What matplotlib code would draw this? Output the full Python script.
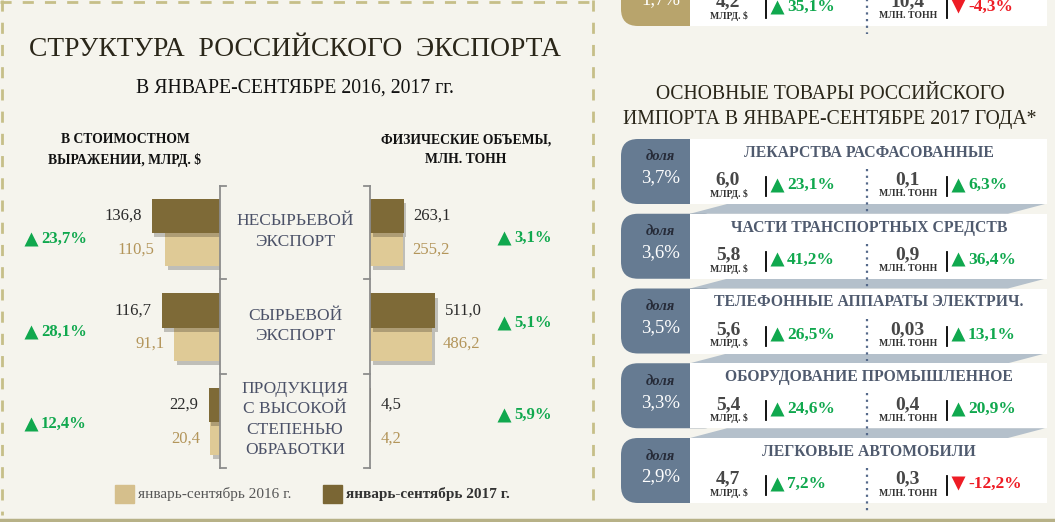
import matplotlib
matplotlib.use("Agg")
import matplotlib.pyplot as plt
from matplotlib.patches import Rectangle, FancyBboxPatch, Polygon
import matplotlib.patheffects as pe

# ---------------- data ----------------
categories = ["НЕСЫРЬЕВОЙ\nЭКСПОРТ", "СЫРЬЕВОЙ\nЭКСПОРТ",
              "ПРОДУКЦИЯ\nС ВЫСОКОЙ\nСТЕПЕНЬЮ\nОБРАБОТКИ"]
value_2016 = [110.5, 91.1, 20.4]        # млрд. $
value_2017 = [136.8, 116.7, 22.9]
value_change = [23.7, 28.1, 12.4]       # %
volume_2016 = [255.2, 486.2, 4.2]       # млн. тонн
volume_2017 = [263.1, 511.0, 4.5]
volume_change = [3.1, 5.1, 5.9]         # %
legend_labels = ["январь-сентябрь 2016 г.", "январь-сентябрь 2017 г."]

import_goods = ["ЛЕКАРСТВА РАСФАСОВАННЫЕ", "ЧАСТИ ТРАНСПОРТНЫХ СРЕДСТВ",
                "ТЕЛЕФОННЫЕ АППАРАТЫ ЭЛЕКТРИЧ.", "ОБОРУДОВАНИЕ ПРОМЫШЛЕННОЕ",
                "ЛЕГКОВЫЕ АВТОМОБИЛИ"]
import_share = [3.7, 3.6, 3.5, 3.3, 2.9]          # доля, %
import_usd = [6.0, 5.8, 5.6, 5.4, 4.7]            # млрд. $
import_usd_change = [23.1, 41.2, 26.5, 24.6, 7.2]
import_tonnes = [0.1, 0.9, 0.03, 0.4, 0.3]        # млн. тонн
import_tonnes_change = [6.3, 36.4, 13.1, 20.9, -12.2]

# partially visible card at the top (previous block)
prev_share = 1.7
prev_usd = 4.2
prev_usd_change = 35.1
prev_tonnes = 10.4
prev_tonnes_change = -4.3

# ---------------- style ----------------
W, H = 1055, 522
BG = "#f5f4ed"
DARK = "#7e6a37"
LIGHT = "#dfca96"
GOLD_TXT = "#b3955a"
GREEN = "#10a84e"
RED = "#ee1c25"
SLATE = "#667b92"
SLATE_TXT = "#4f5a6e"
BAND = "#b4c0cb"
TITLE_C = "#2a2619"
SERIF = ["Liberation Serif", "DejaVu Serif"]

plt.rcParams["font.family"] = SERIF


def fmt(v, nd=1):
    return f"{v:.{nd}f}".replace(".", ",")


def fmt_auto(v):
    return fmt(v, 2) if 0 < v < 0.1 else fmt(v, 1)


fig = plt.figure(figsize=(W / 100, H / 100), dpi=100, facecolor=BG)


def px_axes(x0, y0, x1, y1, z=1):
    ax = fig.add_axes([x0 / W, 1 - y1 / H, (x1 - x0) / W, (y1 - y0) / H], zorder=z)
    ax.set_facecolor("none")
    ax.axis("off")
    return ax


# ---------------- bars ----------------
ROW0, ROW_STEP = 233.0, 94.5          # pixel centre of first group, spacing
AX_TOP, AX_BOT = 180, 470


def setup_rows(ax):
    ax.set_ylim((AX_BOT - ROW0) / ROW_STEP, (AX_TOP - ROW0) / ROW_STEP)


shadow = [pe.SimplePatchShadow(offset=(2, -3), shadow_rgbFace="#000000", alpha=0.22), pe.Normal()]

axL = px_axes(100, AX_TOP, 220, AX_BOT)
axL.set_xlim(240, 0)
setup_rows(axL)
axR = px_axes(370, AX_TOP, 490, AX_BOT)
axR.set_xlim(0, 937.5)
setup_rows(axR)

rows = list(range(len(categories)))
for ax, v16, v17, side in [(axL, value_2016, value_2017, -1), (axR, volume_2016, volume_2017, 1)]:
    b16 = ax.barh([r + 0.175 for r in rows], v16, height=0.35, color=LIGHT, zorder=2)
    b17 = ax.barh([r - 0.18 for r in rows], v17, height=0.36, color=DARK, zorder=3)
    for b in list(b16) + list(b17):
        b.set_path_effects(shadow)
    for r, a, b in zip(rows, v16, v17):
        ha = "right" if side < 0 else "left"
        ax.annotate(fmt(b), xy=(b, r - 0.18), xytext=(10 * side, 0), textcoords="offset pixels",
                    ha=ha, va="center", fontsize=12, color="#2a2a2a")
        ax.annotate(fmt(a), xy=(a, r + 0.175), xytext=(10 * side, 0), textcoords="offset pixels",
                    ha=ha, va="center", fontsize=12, color=GOLD_TXT)

# ---------------- overlay ----------------
ov = px_axes(0, 0, W, H, z=5)
ov.set_xlim(0, W)
ov.set_ylim(H, 0)

# dashed frame of the left panel and bottom rule
frame_c = "#c6bf88"
ov.plot([2, 2], [0, 515], color=frame_c, lw=2, ls=(0, (4, 4)))
ov.plot([0, 593], [2, 2], color=frame_c, lw=2, ls=(0, (4, 4)))
ov.plot([593, 593], [0, 500], color=frame_c, lw=2, ls=(0, (4, 4)))
ov.plot([0, W], [520, 520], color="#b7b187", lw=2.5)

# titles
ov.text(295, 49, "СТРУКТУРА  РОССИЙСКОГО  ЭКСПОРТА", ha="center", va="center",
        fontsize=19.8, color=TITLE_C)
ov.text(295, 88, "В ЯНВАРЕ-СЕНТЯБРЕ 2016, 2017 гг.", ha="center", va="center",
        fontsize=14.2, color="#111111")
ov.text(125, 150, "В СТОИМОСТНОМ\nВЫРАЖЕНИИ, МЛРД. $", ha="center", va="center",
        fontsize=9.8, fontweight="bold", color="#111111", linespacing=1.6)
ov.text(466, 150, "ФИЗИЧЕСКИЕ ОБЪЕМЫ,\nМЛН. ТОНН", ha="center", va="center",
        fontsize=9.8, fontweight="bold", color="#111111", linespacing=1.6)

# central bracket box
br_c = "#8c8c8c"
br_y = [186, 279, 374, 468]
for x, d in [(220, 6), (370, -6)]:
    ov.plot([x, x], [br_y[0], br_y[-1]], color=br_c, lw=1.3)
    for y in br_y:
        ov.plot([x, x + d], [y, y], color=br_c, lw=1.3)

cat_y = [231.5, 326, 419.5]
for r, name in enumerate(categories):
    ov.text(295, cat_y[r], name, ha="center", va="center", fontsize=12.5,
            color="#4c5268", linespacing=1.38)


def change_mark(x, y, v, size, zorder=4):
    """triangle marker + bold percentage, x = left edge of the triangle"""
    up = v >= 0
    col = GREEN if up else RED
    ov.plot([x + 7], [y - (0.5 if up else 1)], marker="^" if up else "v", ms=10.5, color=col,
            mec="none", zorder=zorder)
    ov.text(x + 17, y, f"{fmt(v)}%", ha="left", va="center", fontsize=size,
            fontweight="bold", color=col, zorder=zorder)


pct_left_y = [239, 332, 424]
pct_right_y = [238, 323, 415]
for r in rows:
    change_mark(24, pct_left_y[r], value_change[r], 12)
    change_mark(497, pct_right_y[r], volume_change[r], 12)

# legend
ov.add_patch(Rectangle((115, 485), 19, 18, color="#d5bf8c"))
ov.text(138, 494, legend_labels[0], ha="left", va="center", fontsize=11, color="#555555")
ov.add_patch(Rectangle((323, 485), 19, 18, color="#7a6634"))
ov.text(346, 494, legend_labels[1], ha="left", va="center", fontsize=11,
        fontweight="bold", color="#333333")

# ---------------- right panel ----------------
ov.text(830, 107, "ОСНОВНЫЕ ТОВАРЫ РОССИЙСКОГО\nИМПОРТА В ЯНВАРЕ-СЕНТЯБРЕ 2017 ГОДА*",
        ha="center", va="center", fontsize=14.2, color=TITLE_C, linespacing=1.42)

CARD_H = 65
CARD0, CARD_STEP = 139.0, 74.75


def card(top, pill_color, share, usd, usd_chg, tn, tn_chg, title=None, band=False):
    ov.add_patch(FancyBboxPatch((621, top), 100, CARD_H, boxstyle="round,pad=0,rounding_size=17",
                                fc=pill_color, ec="none", zorder=1))
    ov.add_patch(Rectangle((690, top), 357, CARD_H, fc="white", ec="none", zorder=2))
    if band:
        ov.add_patch(Polygon([(690, top + CARD_STEP), (727, top + CARD_H),
                              (1045, top + CARD_H), (1008, top + CARD_STEP)],
                             closed=True, fc=BAND, ec="none", zorder=1))
    ov.text(660, top + 18, "доля", ha="center", va="center", fontsize=10.5,
            fontweight="bold", fontstyle="italic", color="#262b38", zorder=3)
    ov.text(661, top + 39, fmt(share) + "%", ha="center", va="center", fontsize=13.5,
            color="white", zorder=3)
    if title:
        ov.text(869, top + 14, title, ha="center", va="center", fontsize=11.3,
                fontweight="bold", color=SLATE_TXT, zorder=3)
    for xc, val, unit, xb, chg in [(728, usd, "МЛРД. $", 766, usd_chg),
                                   (907, tn, "МЛН. ТОНН", 947, tn_chg)]:
        ov.text(xc, top + 41, fmt_auto(val), ha="center", va="center", fontsize=14,
                fontweight="bold", color="#474747", zorder=3)
        ov.text(xc + 1, top + 55, unit, ha="center", va="center", fontsize=7,
                fontweight="bold", color="#333333", zorder=3)
        ov.plot([xb, xb], [top + 38, top + 57], color="black", lw=1.3, zorder=3)
        change_mark(xb + 4, top + 46, chg, 12.5)
    ov.plot([867, 867], [top + 30, top + CARD_STEP - 2], color="#55698a", lw=1.6,
            ls=(0, (1, 2)), zorder=3)


card(CARD0 - 178, "#b8a46c", prev_share, prev_usd, prev_usd_change, prev_tonnes, prev_tonnes_change)
for i in range(len(import_goods)):
    card(CARD0 + CARD_STEP * i, SLATE, import_share[i], import_usd[i], import_usd_change[i],
         import_tonnes[i], import_tonnes_change[i], title=import_goods[i],
         band=i < len(import_goods) - 1)

fig.savefig("out.png", dpi=100, facecolor=BG)
